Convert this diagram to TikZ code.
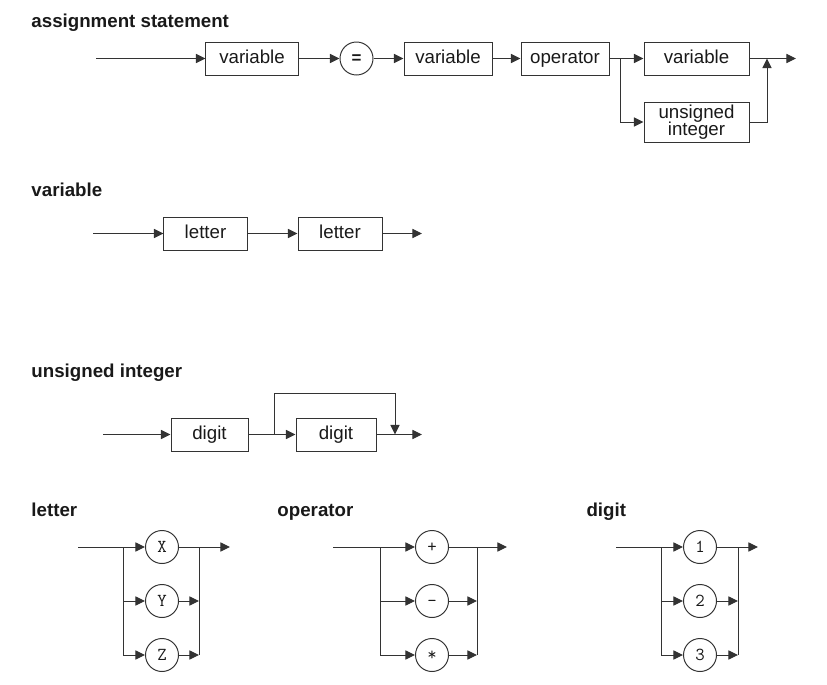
\documentclass[tikz,border=0pt]{standalone}
\usepackage{fontspec}
\setmainfont{Liberation Sans}
\usetikzlibrary{arrows.meta}

\tikzset{
	flow/.style={-{Triangle[length=2.4mm,width=2.3mm]}},
	box/.style={draw, rectangle, minimum height=0.825cm, minimum width=#1, inner sep=0pt,
		text height=10pt, text depth=2.4pt},
	box/.default=2.2cm,
	term/.style={draw, circle, minimum size=0.825cm, inner sep=0pt, text height=8.5pt, text depth=0.6pt,
		font=\ttfamily\fontsize{13}{13}\selectfont},
	title/.style={anchor=base west, inner sep=0pt, font=\bfseries\fontsize{13.3}{15}\selectfont}
}

\begin{document}
\begin{tikzpicture}[x=0.025cm, y=-0.025cm, line width=0.7pt, color=black!80, text=black!90,
		font=\fontsize{13.3}{15}\selectfont]
			%%%%% START %%%%%
			\useasboundingbox (0,0) rectangle (827,684);
			
			% assignment statement
			\node[title] (tAssign) at (31,27) {assignment statement};
			\coordinate (aIn) at (96,58.5);
			\node[box=2.3cm] (aVar1) at (252,58.5) {variable};
			\node[term, font=\bfseries\fontsize{12}{12}\selectfont, text height=6.5pt, text depth=0pt] (aEq) at (356.5,58.5) {=};
			\node[box] (aVar2) at (448,58.5) {variable};
			\node[box] (aOp) at (565,58.5) {operator};
			\coordinate (aSplit) at (620,58.5);
			\node[box=2.625cm] (aVar3) at (696.5,58.5) {variable};
			\node[box=2.625cm, minimum height=1cm, text height=, text depth=, align=center,
				font=\fontsize{13.3}{12.5}\selectfont] (aUint) at (696.5,122) {unsigned\\integer};
			\coordinate (aJoin) at (767,58.5);
			\coordinate (aOut) at (796,58.5);
			
			\draw[flow] (aIn) -- (aVar1);
			\draw[flow] (aVar1) -- (aEq);
			\draw[flow] (aEq) -- (aVar2);
			\draw[flow] (aVar2) -- (aOp);
			\draw (aOp) -- (aSplit);
			\draw[flow] (aSplit) -- (aVar3);
			\draw[flow] (aSplit) |- (aUint);
			\draw[flow] (aVar3) -- (aOut);
			\draw[flow] (aUint) -| (aJoin);
			
			% variable
			\node[title] (tVar) at (31,196) {variable};
			\coordinate (vIn) at (93,233.5);
			\node[box=2.075cm] (vLet1) at (205.5,233.5) {letter};
			\node[box=2.1cm] (vLet2) at (340,233.5) {letter};
			\coordinate (vOut) at (422,233.5);
			
			\draw[flow] (vIn) -- (vLet1);
			\draw[flow] (vLet1) -- (vLet2);
			\draw[flow] (vLet2) -- (vOut);
			
			% unsigned integer
			\node[title] (tUint) at (31,377) {unsigned integer};
			\coordinate (uIn) at (103,434.5);
			\node[box=1.925cm] (uDig1) at (209.5,434.5) {digit};
			\node[box=2cm] (uDig2) at (336,434.5) {digit};
			\coordinate (uSplit) at (274,434.5);
			\coordinate (uTop) at (274,393);
			\coordinate (uJoin) at (395,434.5);
			\coordinate (uOut) at (422,434.5);
			
			\draw[flow] (uIn) -- (uDig1);
			\draw[flow] (uDig1) -- (uDig2);
			\draw[flow] (uDig2) -- (uOut);
			\draw[flow] (uSplit) -- (uTop) -| (uJoin);
			
			% letter
			\node[title] (tLet) at (31,516) {letter};
			\coordinate (lIn) at (78,547);
			\coordinate (lSplit) at (123,547);
			\node[term] (lX) at (162,547) {X};
			\node[term] (lY) at (162,601) {Y};
			\node[term] (lZ) at (162,655) {Z};
			\coordinate (lJoinX) at (199,547);
			\coordinate (lJoinY) at (199,601);
			\coordinate (lJoinZ) at (199,655);
			\coordinate (lOut) at (230,547);
			
			\draw[flow] (lIn) -- (lX);
			\draw[flow] (lSplit) |- (lY);
			\draw[flow] (lSplit) |- (lZ);
			\draw[flow] (lX) -- (lOut);
			\draw[flow] (lY) -- (lJoinY);
			\draw[flow] (lZ) -- (lJoinZ);
			\draw (lJoinX) -- (lJoinZ);
			
			% operator
			\node[title] (tOp) at (277,516) {operator};
			\coordinate (oIn) at (333,547);
			\coordinate (oSplit) at (380,547);
			\node[term] (oPlus) at (432,547) {+};
			\node[term] (oMinus) at (432,601) {\textendash};
			\node[term] (oStar) at (432,655) {*};
			\coordinate (oJoinA) at (477,547);
			\coordinate (oJoinB) at (477,601);
			\coordinate (oJoinC) at (477,655);
			\coordinate (oOut) at (507,547);
			
			\draw[flow] (oIn) -- (oPlus);
			\draw[flow] (oSplit) |- (oMinus);
			\draw[flow] (oSplit) |- (oStar);
			\draw[flow] (oPlus) -- (oOut);
			\draw[flow] (oMinus) -- (oJoinB);
			\draw[flow] (oStar) -- (oJoinC);
			\draw (oJoinA) -- (oJoinC);
			
			% digit
			\node[title] (tDig) at (586,516) {digit};
			\coordinate (dIn) at (616,547);
			\coordinate (dSplit) at (661,547);
			\node[term] (dOne) at (700,547) {1};
			\node[term] (dTwo) at (700,601) {2};
			\node[term] (dThree) at (700,655) {3};
			\coordinate (dJoinA) at (738,547);
			\coordinate (dJoinB) at (738,601);
			\coordinate (dJoinC) at (738,655);
			\coordinate (dOut) at (758,547);
			
			\draw[flow] (dIn) -- (dOne);
			\draw[flow] (dSplit) |- (dTwo);
			\draw[flow] (dSplit) |- (dThree);
			\draw[flow] (dOne) -- (dOut);
			\draw[flow] (dTwo) -- (dJoinB);
			\draw[flow] (dThree) -- (dJoinC);
			\draw (dJoinA) -- (dJoinC);
			
			%%%%% END %%%%%
\end{tikzpicture}
\end{document}
